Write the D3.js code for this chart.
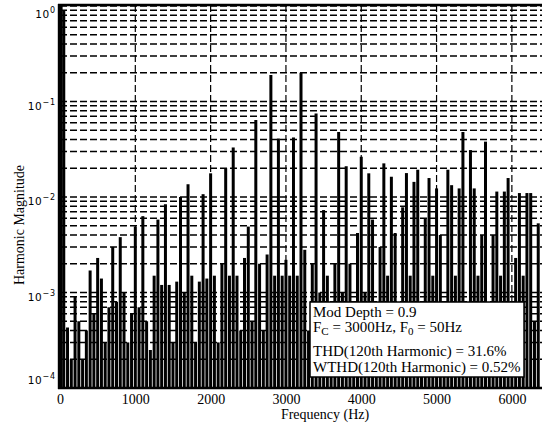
<!DOCTYPE html>
<html><head><meta charset="utf-8">
<script src="https://cdn.jsdelivr.net/npm/d3@7"></script>
<style>body{margin:0;background:#fff}svg{display:block}</style>
</head><body>
<script>
// Harmonic orders 1..127 (fundamental 50 Hz)
const fundamental = 50;
const harmonicOrders = d3.range(1, 128);
const harmonicMagnitude = [
 0.9,4.3e-4,2e-4,9e-4,5e-4,2e-4,4e-4,1.7e-3,6e-4,2.3e-3,
 1.4e-3,3e-4,7e-4,3.0e-3,8e-4,3.8e-3,1e-3,3e-4,6e-4,4.9e-3,
 7e-4,6.3e-3,5e-4,2.5e-4,1.5e-3,5.8e-3,1.2e-3,8.4e-3,1.2e-3,3e-4,
 1.3e-3,1.0e-2,1e-3,1.36e-2,1.5e-3,3e-4,1.3e-3,1.07e-2,1.4e-3,1.77e-2,
 1.5e-3,3e-4,2e-3,0.020,1.5e-3,0.033,1.5e-3,4e-4,2.3e-3,4.9e-3,
 5e-4,0.064,2e-3,4e-4,2.5e-3,0.19,1.5e-3,0.041,1.5e-3,2.2e-3,
 1.5e-3,0.042,1.5e-3,0.20,2.8e-3,4e-4,2e-3,0.075,1e-3,7.3e-3,
 1.5e-3,4e-4,2e-3,0.048,1e-3,0.021,2e-3,5e-4,4.2e-3,0.0264,
 1e-3,0.0177,5.8e-3,5e-4,3e-3,0.0225,1.5e-3,0.0163,4.2e-3,5e-4,
 7.8e-3,0.0178,1.5e-3,0.0144,0.0193,5e-4,6e-3,0.0158,1.5e-3,0.0123,
 4e-3,5e-4,0.0193,0.0133,1.5e-3,0.0123,0.048,5e-4,0.031,0.0123,
 1.5e-3,4e-3,0.038,5e-4,4e-3,0.0114,1.5e-3,0.0114,0.0158,6e-4,
 2.3e-3,0.011,1.5e-3,0.011,0.011,5e-4,5.3e-3
];
const xTicks = [0,1000,2000,3000,4000,5000,6000];
const yExponents = [0,-1,-2,-3,-4];
const legendLines = ["Mod Depth = 0.9","F_C = 3000Hz, F_0 = 50Hz","THD(120th Harmonic) = 31.6%","WTHD(120th Harmonic) = 0.52%"];

const W=542,H=425;
const svg=d3.select("body").append("svg").attr("width",W).attr("height",H);
const x=d3.scaleLinear().domain([0,6400]).range([60,542]);
const y=d3.scaleLog().domain([1e-4,1]).range([388,6]);

// grid
const gridVals=[];
for(let e=-4;e<0;e++){for(let k=1;k<10;k++){gridVals.push(k*Math.pow(10,e));}}
gridVals.push(1);
svg.append("g").selectAll("line").data(gridVals.filter(v=>v>1e-4)).join("line")
 .attr("x1",60).attr("x2",542).attr("y1",d=>y(d)).attr("y2",d=>y(d))
 .attr("stroke","#000").attr("stroke-width",1.5).attr("stroke-dasharray","7,3");
svg.append("g").selectAll("line").data(xTicks.filter(v=>v>0)).join("line")
 .attr("x1",d=>x(d)).attr("x2",d=>x(d)).attr("y1",5).attr("y2",388)
 .attr("stroke","#000").attr("stroke-width",1.2).attr("stroke-dasharray","7,3");

// bars
const data=harmonicOrders.map((n,i)=>({f:n*fundamental,v:harmonicMagnitude[i]}));
svg.append("g").selectAll("line").data(data).join("line")
 .attr("x1",d=>x(d.f)).attr("x2",d=>x(d.f)).attr("y1",y(1e-4)).attr("y2",d=>y(d.v))
 .attr("stroke","#000").attr("stroke-width",3);

// frame
svg.append("line").attr("x1",60.2).attr("x2",60.2).attr("y1",4).attr("y2",389).attr("stroke","#000").attr("stroke-width",4.8);
svg.append("line").attr("x1",58).attr("x2",542).attr("y1",5).attr("y2",5).attr("stroke","#000").attr("stroke-width",2.5);
svg.append("line").attr("x1",58).attr("x2",542).attr("y1",388).attr("y2",388).attr("stroke","#000").attr("stroke-width",2.5);

// x axis labels
const xAxis=d3.axisBottom(x).tickValues(xTicks).tickSize(0).tickPadding(6).tickFormat(d3.format("d"));
const gx=svg.append("g").attr("transform","translate(0,388)").call(xAxis);
gx.select(".domain").remove();
gx.selectAll("text").attr("font-family","Liberation Serif, Times New Roman, serif").attr("font-size",14).attr("fill","#000");

// y labels
const yl=svg.append("g").selectAll("text").data(yExponents).join("text")
 .attr("x",56).attr("y",d=>Math.min(Math.max(y(Math.pow(10,d))+8,18),384))
 .attr("text-anchor","end").attr("font-family","DejaVu Sans, sans-serif").attr("font-size",10.5).attr("letter-spacing",0.8).attr("fill","#000");
yl.append("tspan").text("10");
yl.append("tspan").attr("dy",-5).attr("font-size",8).text(d=>d===0?"0":"\u2212"+(-d));

// axis titles
svg.append("text").attr("x",325).attr("y",419).attr("text-anchor","middle")
 .attr("font-family","Liberation Serif, Times New Roman, serif").attr("font-size",14).text("Frequency (Hz)");
svg.append("text").attr("transform","translate(24,225) rotate(-90)").attr("text-anchor","middle")
 .attr("font-family","Liberation Serif, Times New Roman, serif").attr("font-size",14).text("Harmonic Magnitude");

// legend
const lg=svg.append("g");
lg.append("rect").attr("x",310).attr("y",302).attr("width",214).attr("height",75).attr("fill","#fff").attr("stroke","#000").attr("stroke-width",1.5);
const lt=lg.append("g").attr("font-family","Liberation Serif, Times New Roman, serif").attr("font-size",15);
lt.append("text").attr("x",313).attr("y",317).text(legendLines[0]);
const t2=lt.append("text").attr("x",313).attr("y",332);
t2.append("tspan").text("F");
t2.append("tspan").attr("dy",3).attr("font-size",11).text("C");
t2.append("tspan").attr("dy",-3).text(" = 3000Hz, F");
t2.append("tspan").attr("dy",3).attr("font-size",11).text("0");
t2.append("tspan").attr("dy",-3).text(" = 50Hz");
lt.append("text").attr("x",313).attr("y",356).text(legendLines[2]);
lt.append("text").attr("x",313).attr("y",372).text(legendLines[3]);
</script>
</body></html>
